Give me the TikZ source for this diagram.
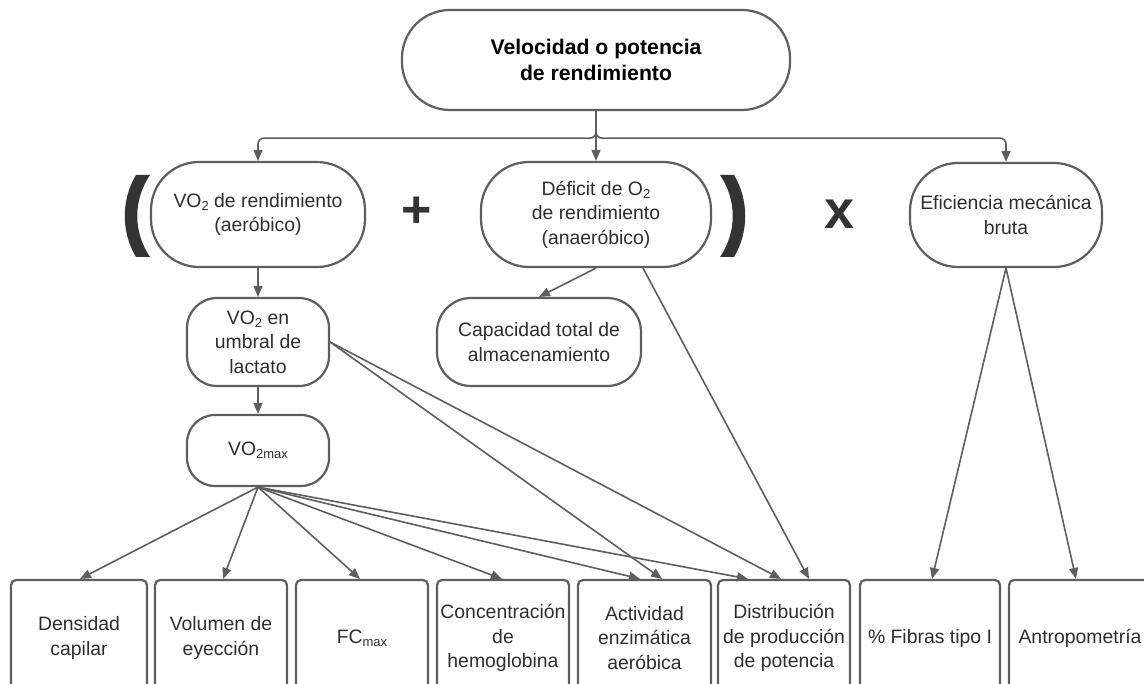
\documentclass[tikz,border=0pt]{standalone}
\usepackage{fontspec}
\setmainfont{Liberation Sans}
\usetikzlibrary{arrows.meta}
\definecolor{linegray}{HTML}{5E5E5E}
\definecolor{txtgray}{HTML}{2E2E2E}
\definecolor{brk}{HTML}{333333}
\newcommand\subtxt[1]{\raisebox{-0.3ex}{\fontsize{13}{13}\selectfont #1}}
\begin{document}
\begin{tikzpicture}[x=1pt,y=-1pt,
  txt/.style={font=\fontsize{19.4}{24.5}\selectfont, text=txtgray, align=center},
  term/.style={txt, draw=linegray, line width=2.2pt, rounded corners=#1, inner sep=0pt},
  term/.default=48pt,
  leaf/.style={txt, draw=linegray, line width=2.2pt, rounded corners=5pt, inner sep=0pt, minimum height=116pt},
  conn/.style={draw=linegray, line width=1.6pt, -{Triangle[length=11pt,width=9pt]}},
  sym/.style={inner sep=0pt, text=brk, font=\bfseries\fontsize{#1}{#1}\selectfont},
  paren/.style={fill=brk, draw=none}]
\useasboundingbox (0,0) rectangle (1144,684);
\fill[white] (0,0) rectangle (1144,684);
\clip (0,0) rectangle (1144,684);

% top level
\node[term=48pt, minimum width=388pt, minimum height=100pt, font=\bfseries\fontsize{21.2}{26}\selectfont, text=black] (title) at (596,60) {Velocidad o potencia\\de rendimiento};
\node[term=48pt, minimum width=214pt, minimum height=105pt] (vo2r) at (258,214.5) {VO\subtxt{2} de rendimiento\\(aeróbico)};
\node[term=48pt, minimum width=230pt, minimum height=105pt] (def) at (596,214.5) {Déficit de O\subtxt{2}\\de rendimiento\\(anaeróbico)};
\node[term=48pt, minimum width=192pt, minimum height=104pt] (eff) at (1006,215) {Eficiencia mecánica\\bruta};

% operators
\path[paren] (136,175) -- (150,175) .. controls (133,200) and (133,232) .. (150,257) -- (136,257) .. controls (121,232) and (121,200) .. (136,175) -- cycle;
\path[paren] (734,175) -- (720,175) .. controls (737,200) and (737,232) .. (720,257) -- (734,257) .. controls (749,232) and (749,200) .. (734,175) -- cycle;
\node[sym=52] (plus) at (417,212.5) {+};
\node[sym=54] (times) at (840,214) {x};

% middle level
\node[term=30pt, minimum width=142pt, minimum height=88pt] (umb) at (258,342) {VO\subtxt{2} en\\umbral de\\lactato};
\node[term=34pt, minimum width=204pt, minimum height=88pt] (cap) at (539,342) {Capacidad total de\\almacenamiento};
\node[term=28pt, minimum width=142pt, minimum height=71pt] (vmax) at (258,450.5) {VO\subtxt{2max}};

% bottom level
\node[leaf, minimum width=136pt] (b1) at (79,638) {Densidad\\capilar};
\node[leaf, minimum width=132pt] (b2) at (221,638) {Volumen de\\eyección};
\node[leaf, minimum width=132pt] (b3) at (362,638) {FC\subtxt{max}};
\node[leaf, minimum width=132pt] (b4) at (503,638) {Concentración\\de\\hemoglobina};
\node[leaf, minimum width=133pt] (b5) at (644.5,638) {Actividad\\enzimática\\aeróbica};
\node[leaf, minimum width=132pt] (b6) at (784,638) {Distribución\\de producción\\de potencia};
\node[leaf, minimum width=140pt] (b7) at (930,638) {\% Fibras tipo I};
\node[leaf, minimum width=142pt] (b8) at (1080,638) {Antropometría};

% connectors top
\draw[conn, rounded corners=6pt] (title.south) -- ++(0,27) -| (vo2r.north);
\draw[conn, rounded corners=6pt] (title.south) -- ++(0,27) -| (eff.north);
\draw[conn] (title.south) -- (def.north);

% aerobic chain
\draw[conn] (vo2r.south) -- (umb.north);
\draw[conn] (umb.south) -- (vmax.north);
\draw[conn] (umb.east) -- ([xshift=17.5pt]b5.north);
\draw[conn] (umb.east) -- ([xshift=-3pt]b6.north);

% VO2max fan
\draw[conn] (vmax.south) -- ([xshift=1pt]b1.north);
\draw[conn] (vmax.south) -- ([xshift=2pt]b2.north);
\draw[conn] (vmax.south) -- ([xshift=-2pt]b3.north);
\draw[conn] (vmax.south) -- ([xshift=-1pt]b4.north);
\draw[conn] (vmax.south) -- ([xshift=-4.5pt]b5.north);
\draw[conn] (vmax.south) -- ([xshift=-36pt]b6.north);

% anaerobic
\draw[conn] (def.south) -- (cap.north);
\draw[conn] ([xshift=47pt]def.south) -- ([xshift=25pt]b6.north);

% efficiency
\draw[conn] (eff.south) -- ([xshift=2pt]b7.north);
\draw[conn] (eff.south) -- ([xshift=-4pt]b8.north);
\end{tikzpicture}
\end{document}
